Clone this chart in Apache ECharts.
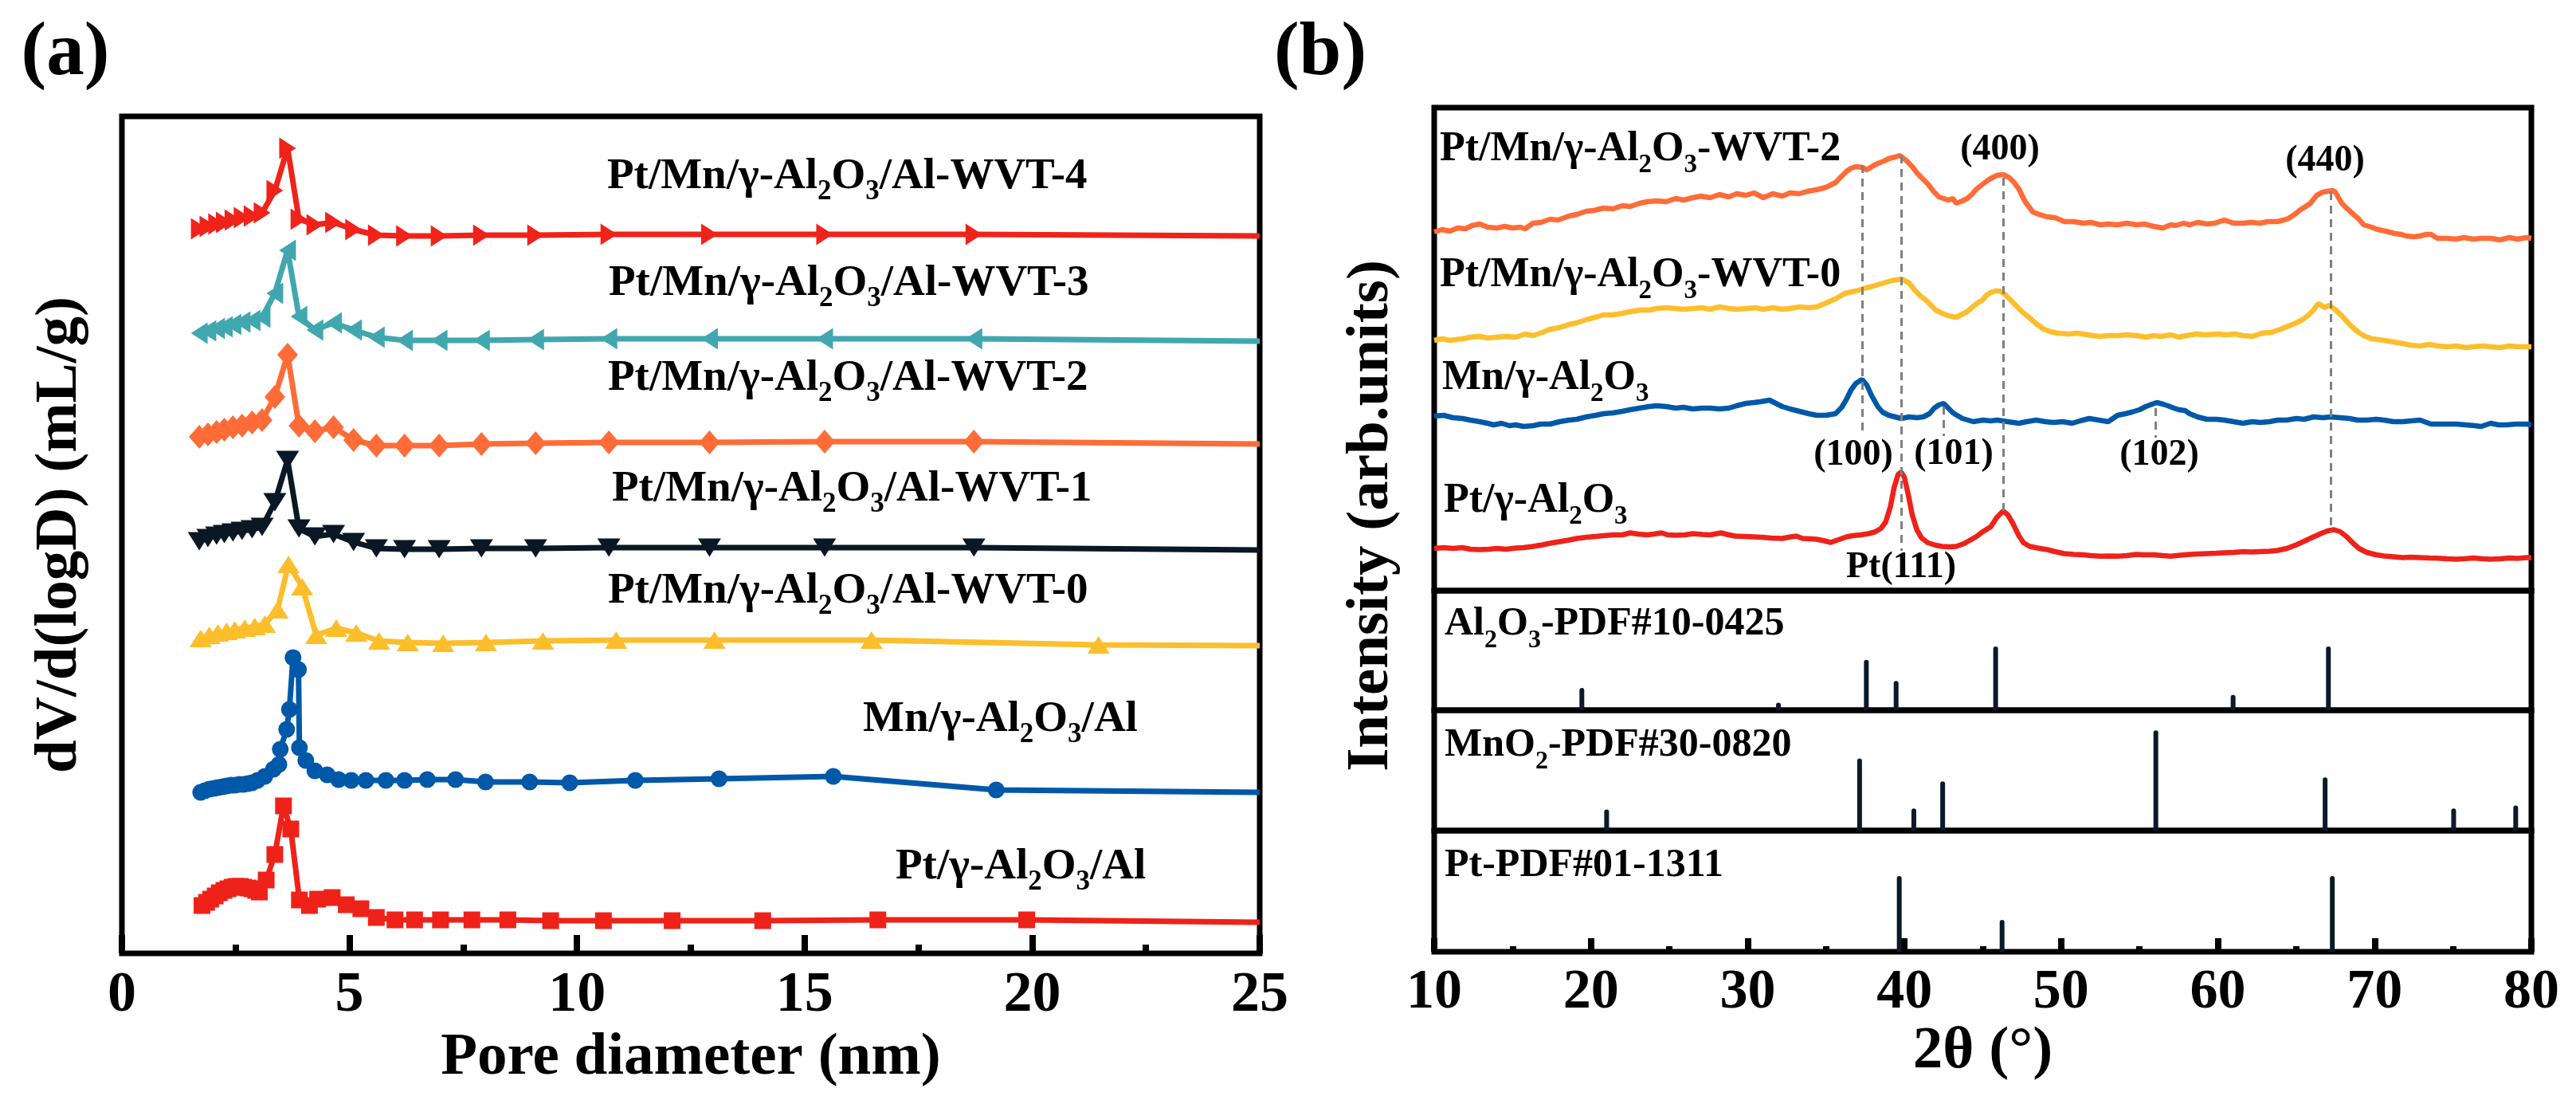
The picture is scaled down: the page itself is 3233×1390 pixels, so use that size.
<!DOCTYPE html>
<html>
<head>
<meta charset="utf-8">
<title>Pore size distribution and XRD</title>
<script src="https://cdn.jsdelivr.net/npm/echarts@6.0.0/dist/echarts.min.js"></script>
<style>
html, body { margin: 0; padding: 0; background: #fff; }
#chart { width: 3233px; height: 1390px; }
</style>
</head>
<body>
<div id="chart"></div>
<script>
var FONT = '"Liberation Serif", "Times New Roman", serif';

// (a) pore size distribution, curves stacked with an offset
var poreX = [1.70,1.89,2.08,2.25,2.44,2.64,2.86,3.08,3.36,3.64,3.89,4.24,4.65,5.09,5.59,6.21,6.97,7.90,9.09,10.70,12.91,15.44,18.72,25];
var wvt4 = [9.09,9.12,9.15,9.17,9.20,9.23,9.25,9.29,9.57,10.10,9.21,9.14,9.17,9.08,9.01,9.00,9.00,9.01,9.01,9.02,9.02,9.02,9.02,9.00];
var wvt3 = [7.78,7.81,7.84,7.86,7.89,7.92,7.94,7.98,8.28,8.82,7.99,7.82,7.91,7.82,7.73,7.69,7.69,7.69,7.70,7.71,7.71,7.71,7.71,7.68];
var wvt2 = [6.48,6.51,6.54,6.57,6.60,6.62,6.66,6.69,6.98,7.51,6.62,6.55,6.60,6.44,6.37,6.37,6.37,6.39,6.40,6.41,6.41,6.42,6.42,6.39];
var wvt1 = [5.17,5.21,5.24,5.26,5.28,5.30,5.32,5.35,5.66,6.19,5.33,5.23,5.26,5.16,5.08,5.07,5.07,5.08,5.08,5.09,5.09,5.09,5.09,5.06];
var poreX0 = [1.73,1.92,2.11,2.30,2.48,2.70,2.92,3.14,3.42,3.66,3.96,4.27,4.71,5.15,5.65,6.28,7.06,8.00,9.25,10.86,13.02,16.47,21.46,25];
var wvt0 = [3.95,3.99,4.02,4.04,4.06,4.08,4.10,4.13,4.31,4.88,4.60,3.99,4.08,4.02,3.92,3.90,3.89,3.90,3.92,3.93,3.93,3.93,3.87,3.86];
var poreXMn = [1.73,1.82,1.92,2.02,2.11,2.21,2.30,2.40,2.48,2.58,2.67,2.77,2.86,2.98,3.14,3.33,3.45,3.48,3.62,3.68,3.76,3.88,3.90,4.04,4.24,4.51,4.76,5.04,5.36,5.80,6.21,6.71,7.33,7.99,8.96,9.84,11.28,13.12,15.63,19.21,25];
var mnAl = [2.02,2.04,2.06,2.07,2.08,2.09,2.10,2.11,2.11,2.12,2.12,2.13,2.14,2.17,2.22,2.31,2.37,2.56,2.81,3.06,3.71,3.56,2.58,2.42,2.29,2.24,2.18,2.17,2.17,2.17,2.17,2.18,2.18,2.15,2.15,2.14,2.17,2.19,2.22,2.05,2.02];
var poreXPt = [1.76,1.86,1.95,2.05,2.14,2.24,2.33,2.42,2.51,2.60,2.67,2.77,2.86,2.94,3.02,3.17,3.36,3.55,3.71,3.90,4.12,4.30,4.62,4.93,5.25,5.59,6.00,6.43,7.00,7.69,8.48,9.42,10.58,12.09,14.08,16.61,19.88,25];
var ptAl = [0.60,0.64,0.68,0.72,0.76,0.79,0.81,0.83,0.84,0.84,0.83,0.82,0.81,0.79,0.77,0.92,1.24,1.85,1.56,0.67,0.60,0.68,0.70,0.61,0.56,0.45,0.42,0.42,0.42,0.42,0.42,0.41,0.41,0.41,0.41,0.42,0.42,0.39];

// (b) XRD patterns [2theta, intensity + offset]
var xrdWvt2 = [[10.0,4.50],[10.5,4.53],[11.0,4.51],[11.5,4.55],[12.0,4.54],[12.4,4.58],[12.9,4.60],[13.4,4.56],[14.0,4.55],[14.5,4.57],[15.0,4.55],[15.5,4.56],[15.8,4.54],[16.3,4.61],[16.8,4.62],[17.4,4.66],[17.9,4.65],[18.6,4.70],[19.1,4.72],[19.7,4.76],[20.2,4.77],[20.8,4.80],[21.4,4.79],[22.0,4.83],[22.5,4.82],[23.1,4.86],[23.6,4.88],[24.2,4.89],[24.8,4.88],[25.4,4.92],[25.9,4.90],[26.5,4.93],[27.0,4.95],[27.6,4.93],[28.2,4.97],[28.8,4.94],[29.3,4.98],[29.9,4.96],[30.4,4.99],[31.0,4.93],[31.6,4.98],[32.2,4.95],[32.7,4.99],[33.3,4.98],[33.8,5.01],[34.4,5.03],[35.0,5.06],[35.6,5.12],[36.0,5.20],[36.3,5.26],[36.6,5.30],[36.9,5.32],[37.3,5.31],[37.6,5.28],[38.0,5.33],[38.3,5.36],[38.7,5.39],[39.0,5.42],[39.4,5.44],[39.7,5.46],[40.1,5.40],[40.5,5.32],[40.8,5.24],[41.2,5.16],[41.5,5.10],[41.9,5.00],[42.2,4.94],[42.5,4.92],[42.8,4.90],[43.1,4.92],[43.3,4.86],[43.7,4.89],[44.0,4.92],[44.3,4.97],[44.6,5.04],[45.0,5.10],[45.4,5.16],[45.9,5.21],[46.3,5.22],[46.7,5.18],[47.0,5.12],[47.3,5.04],[47.7,4.88],[48.2,4.75],[48.6,4.72],[49.1,4.69],[49.6,4.68],[50.2,4.63],[50.8,4.63],[51.4,4.61],[51.9,4.62],[52.5,4.59],[53.0,4.60],[53.6,4.59],[54.2,4.61],[54.8,4.59],[55.3,4.60],[55.9,4.57],[56.5,4.55],[57.0,4.59],[57.3,4.58],[57.8,4.61],[58.2,4.59],[58.7,4.62],[59.3,4.60],[59.8,4.61],[60.4,4.65],[61.0,4.61],[61.6,4.61],[62.1,4.62],[62.7,4.61],[63.2,4.63],[63.8,4.63],[64.2,4.65],[64.5,4.67],[64.9,4.72],[65.2,4.77],[65.6,4.82],[65.9,4.86],[66.3,4.96],[66.7,5.00],[67.0,5.01],[67.3,5.02],[67.5,5.00],[67.9,4.86],[68.2,4.80],[68.6,4.73],[69.0,4.66],[69.3,4.59],[69.8,4.56],[70.2,4.53],[70.7,4.51],[71.3,4.48],[71.7,4.47],[72.0,4.45],[72.5,4.44],[72.9,4.45],[73.3,4.47],[73.6,4.47],[74.0,4.42],[74.6,4.42],[75.2,4.41],[75.7,4.43],[76.3,4.41],[76.8,4.42],[77.4,4.42],[78.0,4.40],[78.6,4.43],[79.1,4.41],[79.7,4.43],[80.0,4.42]];
var xrdWvt0 = [[10.0,3.14],[10.5,3.16],[11.0,3.14],[11.8,3.16],[12.3,3.18],[12.9,3.19],[13.4,3.17],[14.0,3.18],[14.6,3.19],[15.2,3.18],[15.8,3.22],[16.3,3.20],[16.9,3.24],[17.4,3.28],[18.0,3.30],[18.6,3.34],[19.1,3.36],[19.7,3.40],[20.3,3.43],[20.8,3.46],[21.4,3.46],[22.0,3.48],[22.5,3.50],[23.1,3.52],[23.7,3.52],[24.2,3.54],[24.8,3.55],[25.4,3.54],[25.9,3.53],[26.5,3.54],[27.1,3.55],[27.6,3.53],[28.2,3.56],[28.8,3.54],[29.3,3.53],[29.9,3.54],[30.5,3.55],[31.0,3.53],[31.6,3.55],[32.2,3.53],[32.7,3.54],[33.3,3.56],[33.9,3.55],[34.4,3.56],[35.0,3.61],[35.6,3.66],[36.2,3.73],[36.9,3.76],[37.6,3.80],[38.0,3.82],[38.5,3.85],[39.2,3.89],[39.8,3.91],[40.3,3.86],[40.7,3.76],[41.0,3.70],[41.4,3.64],[41.7,3.58],[42.0,3.52],[42.4,3.48],[42.8,3.45],[43.3,3.43],[43.6,3.46],[44.0,3.50],[44.3,3.55],[44.6,3.60],[45.0,3.65],[45.2,3.70],[45.5,3.74],[45.8,3.76],[46.1,3.76],[46.4,3.72],[46.7,3.66],[47.1,3.58],[47.5,3.50],[48.0,3.42],[48.4,3.35],[48.9,3.28],[49.3,3.25],[49.8,3.23],[50.5,3.22],[51.0,3.23],[51.4,3.22],[52.0,3.20],[52.5,3.19],[53.0,3.20],[53.6,3.20],[54.2,3.21],[54.8,3.20],[55.4,3.18],[55.9,3.20],[56.4,3.19],[57.0,3.21],[57.5,3.18],[58.0,3.20],[58.6,3.22],[59.2,3.21],[60.0,3.22],[60.5,3.21],[61.1,3.22],[61.6,3.20],[62.2,3.19],[62.8,3.23],[63.4,3.24],[64.0,3.28],[64.5,3.32],[65.0,3.36],[65.4,3.40],[65.8,3.46],[66.1,3.52],[66.4,3.60],[66.6,3.58],[66.8,3.55],[67.1,3.58],[67.4,3.54],[67.9,3.45],[68.4,3.34],[68.9,3.25],[69.3,3.20],[69.8,3.16],[70.6,3.14],[71.2,3.12],[71.8,3.10],[72.3,3.08],[72.9,3.07],[73.5,3.09],[74.0,3.07],[74.6,3.06],[75.2,3.07],[75.8,3.05],[76.3,3.06],[76.9,3.07],[77.4,3.06],[78.0,3.05],[78.6,3.07],[79.1,3.06],[79.7,3.06],[80.0,3.06]];
var xrdMn = [[10.0,2.19],[10.6,2.20],[11.2,2.17],[11.8,2.16],[12.3,2.14],[12.9,2.12],[13.4,2.10],[13.8,2.08],[14.3,2.10],[14.8,2.07],[15.2,2.08],[15.7,2.06],[16.3,2.07],[16.8,2.09],[17.4,2.09],[18.0,2.12],[18.6,2.14],[19.1,2.15],[19.7,2.18],[20.3,2.20],[20.8,2.22],[21.4,2.23],[22.0,2.25],[22.5,2.27],[23.1,2.29],[23.7,2.31],[24.2,2.32],[24.8,2.31],[25.4,2.29],[25.9,2.30],[26.5,2.28],[27.1,2.29],[27.6,2.29],[28.2,2.28],[28.8,2.29],[29.3,2.32],[29.9,2.35],[30.4,2.36],[30.8,2.37],[31.4,2.39],[31.8,2.35],[32.2,2.31],[32.7,2.28],[33.3,2.25],[33.9,2.22],[34.4,2.20],[35.0,2.20],[35.6,2.22],[36.0,2.30],[36.3,2.40],[36.6,2.52],[36.9,2.60],[37.3,2.65],[37.6,2.58],[37.9,2.45],[38.3,2.31],[38.6,2.24],[39.0,2.20],[39.4,2.18],[39.8,2.16],[40.3,2.18],[40.8,2.17],[41.2,2.18],[41.6,2.22],[41.9,2.29],[42.2,2.33],[42.5,2.35],[42.8,2.29],[43.1,2.23],[43.7,2.16],[44.4,2.12],[45.0,2.14],[45.5,2.13],[45.9,2.14],[46.6,2.12],[47.3,2.10],[47.8,2.12],[48.4,2.14],[49.0,2.12],[49.5,2.11],[50.1,2.12],[50.7,2.10],[51.2,2.13],[51.8,2.16],[52.4,2.14],[53.0,2.12],[53.6,2.20],[54.1,2.22],[54.5,2.24],[55.0,2.27],[55.4,2.31],[55.8,2.34],[56.1,2.36],[56.5,2.34],[56.8,2.32],[57.2,2.29],[57.5,2.27],[57.9,2.26],[58.2,2.22],[58.7,2.18],[59.3,2.15],[59.9,2.15],[60.4,2.14],[61.0,2.12],[61.6,2.10],[62.2,2.12],[62.7,2.11],[63.3,2.12],[63.8,2.14],[64.4,2.14],[65.0,2.16],[65.5,2.15],[66.1,2.18],[66.7,2.17],[67.2,2.18],[67.8,2.17],[68.4,2.16],[68.9,2.14],[69.5,2.14],[70.1,2.15],[70.6,2.14],[71.2,2.12],[71.8,2.12],[72.3,2.13],[72.9,2.14],[73.6,2.09],[74.4,2.09],[75.2,2.09],[75.8,2.08],[76.4,2.07],[76.8,2.06],[77.4,2.10],[77.9,2.08],[78.4,2.08],[79.0,2.09],[79.7,2.09],[80.0,2.08]];
var xrdPt = [[10.0,0.53],[10.6,0.54],[11.2,0.53],[11.8,0.54],[12.3,0.52],[12.9,0.515],[13.5,0.52],[14.0,0.53],[14.6,0.52],[15.2,0.535],[15.7,0.54],[16.3,0.555],[16.9,0.575],[17.4,0.595],[18.0,0.615],[18.6,0.635],[19.1,0.655],[19.7,0.67],[20.3,0.68],[20.8,0.69],[21.4,0.70],[22.0,0.70],[22.5,0.725],[23.0,0.71],[23.6,0.70],[24.0,0.71],[24.5,0.725],[24.9,0.70],[25.4,0.695],[26.0,0.70],[26.5,0.715],[27.1,0.705],[27.6,0.70],[28.3,0.725],[28.8,0.70],[29.2,0.685],[29.8,0.68],[30.4,0.675],[30.9,0.67],[31.5,0.66],[32.2,0.655],[32.6,0.67],[33.1,0.685],[33.5,0.655],[34.0,0.65],[34.4,0.645],[34.9,0.625],[35.3,0.605],[35.8,0.64],[36.3,0.675],[36.7,0.69],[37.2,0.70],[37.7,0.715],[38.1,0.735],[38.5,0.78],[38.8,0.86],[39.1,1.05],[39.35,1.30],[39.6,1.46],[39.8,1.49],[40.0,1.42],[40.25,1.20],[40.5,0.95],[40.8,0.76],[41.1,0.66],[41.5,0.60],[42.0,0.57],[42.4,0.555],[42.9,0.55],[43.3,0.555],[43.8,0.59],[44.2,0.635],[44.6,0.68],[45.0,0.74],[45.5,0.80],[45.9,0.92],[46.3,1.00],[46.6,0.95],[46.9,0.85],[47.3,0.69],[47.6,0.60],[48.0,0.555],[48.5,0.535],[49.1,0.515],[49.6,0.49],[50.2,0.465],[50.8,0.455],[51.4,0.45],[51.9,0.44],[52.5,0.432],[53.1,0.435],[53.6,0.432],[54.2,0.44],[54.8,0.455],[55.3,0.45],[55.9,0.45],[56.5,0.44],[57.0,0.432],[57.6,0.445],[58.2,0.455],[58.7,0.46],[59.3,0.465],[59.9,0.47],[60.4,0.475],[61.0,0.48],[61.6,0.49],[62.1,0.485],[62.7,0.49],[63.3,0.495],[63.8,0.505],[64.4,0.53],[65.0,0.575],[65.5,0.62],[66.1,0.675],[66.6,0.72],[67.0,0.75],[67.4,0.765],[67.8,0.74],[68.2,0.68],[68.6,0.60],[69.0,0.53],[69.5,0.48],[70.1,0.45],[70.6,0.435],[71.2,0.425],[71.8,0.415],[72.3,0.42],[72.9,0.415],[73.5,0.41],[74.0,0.408],[74.6,0.40],[75.2,0.395],[75.7,0.40],[76.3,0.41],[76.9,0.40],[77.4,0.395],[78.0,0.40],[78.6,0.41],[79.1,0.405],[79.7,0.415],[80.0,0.415]];

// reference cards (stick patterns)
var al2o3Pos = [19.42,31.96,37.57,39.47,45.82,60.97,67.05];
var al2o3Int = [35,12,79,46,100,24,100];
var mno2Pos = [21.00,37.14,40.60,42.44,56.04,66.84,75.04,79.00];
var mno2Int = [21,72,22,49,100,53,22,25];
var ptPos = [39.67,46.23,67.30];
var ptInt = [100,42,100];

// dashed guide lines at the indexed reflections
var peakPos = [37.3,39.8,42.5,46.3,56.0,67.2];
var peakTop = [5.34,5.46,2.31,5.18,2.29,5.00];
var peakBottom = [1.94,0.50,1.94,1.00,1.92,0.74];

function pairs(xs, ys) {
    return xs.map(function (x, i) {
        // the point at the right edge only carries the line, no marker
        return x >= 25 ? { value: [x, ys[i]], symbol: 'none' } : [x, ys[i]];
    });
}

function poreLine(name, xs, ys, color, symbol, rotate, size) {
    return {
        name: name,
        type: 'line',
        xAxisIndex: 0,
        yAxisIndex: 0,
        data: pairs(xs, ys),
        symbol: symbol,
        symbolSize: size,
        symbolRotate: rotate,
        lineStyle: { color: color, width: 7 },
        itemStyle: { color: color },
        z: 3
    };
}

function xrdLine(name, data, color) {
    return {
        name: name,
        type: 'line',
        xAxisIndex: 1,
        yAxisIndex: 1,
        data: data,
        showSymbol: false,
        symbol: 'none',
        lineStyle: { color: color, width: 6.5 },
        z: 3
    };
}

function sticks(idx, pos, inten) {
    return {
        type: 'bar',
        xAxisIndex: idx,
        yAxisIndex: idx,
        barWidth: 6,
        data: pos.map(function (p, i) { return [p, inten[i]]; }),
        itemStyle: { color: '#0b1a2a', borderRadius: [3, 3, 0, 0] }
    };
}

// "Al_2O_3" -> rich text with subscripts
function chem(str, size, sub) {
    var parts = str.split(/_(\d)/);
    var txt = '';
    for (var i = 0; i < parts.length; i++) {
        if (!parts[i]) continue;
        txt += (i % 2 ? '{s|' : '{n|') + parts[i] + '}';
    }
    return {
        text: txt,
        rich: {
            n: { fontSize: size, fontWeight: 'bold', fontFamily: FONT, fill: '#000', lineHeight: 74, verticalAlign: 'middle' },
            s: { fontSize: sub, fontWeight: 'bold', fontFamily: FONT, fill: '#000', verticalAlign: 'bottom' }
        },
        align: 'left',
        verticalAlign: 'middle'
    };
}

function label(str, x, baseline, size, sub) {
    return { type: 'text', x: x, y: baseline - 0.3375 * size, style: chem(str, size, sub), z: 10 };
}

function plain(str, x, y, size, rot) {
    return {
        type: 'text', x: x, y: y, rotation: rot || 0, z: 10,
        style: {
            text: str, fontSize: size, fontWeight: 'bold', fontFamily: FONT, fill: '#000',
            align: 'center', verticalAlign: 'middle'
        }
    };
}

var boxGrid = { show: true, borderColor: '#000', borderWidth: 7, backgroundColor: 'transparent' };
function grid(l, t, w, h) {
    return Object.assign({ left: l, top: t, width: w, height: h }, boxGrid);
}

var hiddenX = function (idx) {
    return { gridIndex: idx, type: 'value', min: 10, max: 80, show: false };
};
var hiddenY = function (idx, max) {
    return { gridIndex: idx, type: 'value', min: 0, max: max, show: false };
};
var tickFont = { fontFamily: FONT, fontWeight: 'bold', color: '#000' };

var option = {
    animation: false,
    backgroundColor: '#fff',
    grid: [
        grid(153, 146, 1428, 1050),
        grid(1800, 135, 1377, 606),
        grid(1800, 741, 1377, 150),
        grid(1800, 891, 1377, 151),
        grid(1800, 1042, 1377, 152)
    ],
    xAxis: [
        {
            gridIndex: 0, type: 'value', min: 0, max: 25, interval: 5,
            axisLine: { show: false },
            axisTick: { inside: true, length: 23, lineStyle: { width: 8, color: '#000' } },
            minorTick: { show: true, splitNumber: 2, length: 11, lineStyle: { width: 8, color: '#000' } },
            axisLabel: Object.assign({ fontSize: 72, margin: 17 }, tickFont),
            splitLine: { show: false },
            name: 'Pore diameter (nm)', nameLocation: 'middle', nameGap: 93,
            nameTextStyle: Object.assign({ fontSize: 75 }, tickFont)
        },
        hiddenX(1), hiddenX(2), hiddenX(3),
        {
            gridIndex: 4, type: 'value', min: 10, max: 80, interval: 10,
            axisLine: { show: false },
            axisTick: { inside: true, length: 17, lineStyle: { width: 8, color: '#000' } },
            minorTick: { show: true, splitNumber: 2, length: 7, lineStyle: { width: 8, color: '#000' } },
            axisLabel: Object.assign({ fontSize: 70, margin: 17 }, tickFont),
            splitLine: { show: false },
            name: '2θ (°)', nameLocation: 'middle', nameGap: 82,
            nameTextStyle: Object.assign({ fontSize: 75 }, tickFont)
        }
    ],
    yAxis: [
        { gridIndex: 0, type: 'value', min: 0, max: 10.5, show: false },
        hiddenY(1, 6.06), hiddenY(2, 187.5), hiddenY(3, 120), hiddenY(4, 160)
    ],
    series: [
        poreLine('Pt/γ-Al2O3/Al', poreXPt, ptAl, '#ef221a', 'rect', 0, 21),
        poreLine('Mn/γ-Al2O3/Al', poreXMn, mnAl, '#0058a9', 'circle', 0, 21),
        poreLine('WVT-0', poreX0, wvt0, '#fdbe2c', 'triangle', 0, [28, 22]),
        poreLine('WVT-1', poreX, wvt1, '#0a1724', 'triangle', 180, [29, 23]),
        poreLine('WVT-2', poreX, wvt2, '#ff6c37', 'diamond', 0, [26, 30]),
        poreLine('WVT-3', poreX, wvt3, '#41a7af', 'triangle', 90, [27, 21]),
        poreLine('WVT-4', poreX, wvt4, '#f0231b', 'triangle', -90, [27, 21]),
        xrdLine('WVT-2', xrdWvt2, '#ff6c37'),
        xrdLine('WVT-0', xrdWvt0, '#fdbe2c'),
        xrdLine('Mn', xrdMn, '#0058a9'),
        Object.assign(xrdLine('Pt', xrdPt, '#ef221a'), {
            markLine: {
                silent: true,
                symbol: ['none', 'none'],
                label: { show: false },
                lineStyle: { color: '#808080', width: 3, type: [10, 7] },
                data: peakPos.map(function (p, i) {
                    return [{ coord: [p, peakTop[i]] }, { coord: [p, peakBottom[i]] }];
                })
            }
        }),
        sticks(2, al2o3Pos, al2o3Int),
        sticks(3, mno2Pos, mno2Int),
        sticks(4, ptPos, ptInt)
    ],
    graphic: [
        plain('(a)', 82, 68, 95),
        plain('(b)', 1657, 68, 95),
        plain('dV/d(logD) (mL/g)', 76, 671, 75, Math.PI / 2),
        plain('Intensity (arb.units)', 1722, 647, 75, Math.PI / 2),
        label('Pt/Mn/γ-Al_2O_3/Al-WVT-4', 762, 240, 55, 35),
        label('Pt/Mn/γ-Al_2O_3/Al-WVT-3', 764, 374, 55, 35),
        label('Pt/Mn/γ-Al_2O_3/Al-WVT-2', 763, 493, 55, 35),
        label('Pt/Mn/γ-Al_2O_3/Al-WVT-1', 768, 632, 55, 35),
        label('Pt/Mn/γ-Al_2O_3/Al-WVT-0', 763, 760, 55, 35),
        label('Mn/γ-Al_2O_3/Al', 1083, 921, 55, 35),
        label('Pt/γ-Al_2O_3/Al', 1124, 1106, 55, 35),
        label('Pt/Mn/γ-Al_2O_3-WVT-2', 1807, 205, 52, 33),
        label('Pt/Mn/γ-Al_2O_3-WVT-0', 1807, 363, 52, 33),
        label('Mn/γ-Al_2O_3', 1810, 492, 52, 33),
        label('Pt/γ-Al_2O_3', 1812, 646, 52, 33),
        label('Al_2O_3-PDF#10-0425', 1813, 800, 50, 32),
        label('MnO_2-PDF#30-0820', 1813, 952, 50, 32),
        label('Pt-PDF#01-1311', 1813, 1103, 50, 32),
        plain('(400)', 2510, 188, 46),
        plain('(440)', 2918, 202, 46),
        plain('(100)', 2326, 571, 46),
        plain('(101)', 2452, 570, 46),
        plain('(102)', 2710, 571, 46),
        plain('Pt(111)', 2386, 712, 46)
    ]
};

var chart = echarts.init(document.getElementById('chart'));
chart.setOption(option);
</script>
</body>
</html>
